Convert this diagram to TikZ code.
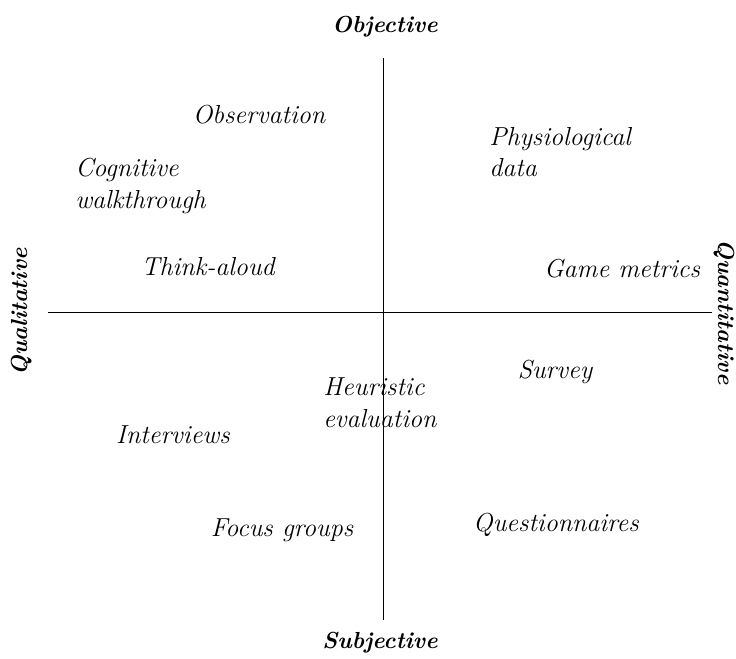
\documentclass[tikz,border=0pt]{standalone}
\usepackage{fontspec}
\tikzset{
  item/.style={font=\fontsize{18.5}{22.5}\selectfont\itshape, align=left, inner sep=0pt},
  pole/.style={font=\fontsize{16.5}{19}\selectfont\bfseries\itshape, inner sep=0pt}
}
\begin{document}
\begin{tikzpicture}[x=0.025cm,y=-0.025cm]
\useasboundingbox (0,0) rectangle (736,658);

\coordinate (top) at (383,58);
\coordinate (bottom) at (383,620);
\coordinate (left) at (48,312);
\coordinate (right) at (712,312);
\draw[semithick] (top) -- (bottom);
\draw[semithick] (left) -- (right);

\node[pole] (obj) at (385,27) {Objective};
\node[pole] (subj) at (380,643) {Subjective};
\node[pole,rotate=90] (qual) at (22,312) {Qualitative};
\node[pole,rotate=-90] (quant) at (724,312) {Quantitative};

\node[item] (obs) at (259,115) {Observation};
\node[item,anchor=west] (cog) at (75,186) {Cognitive\\walkthrough};
\node[item,anchor=west] (phys) at (489,152) {Physiological\\data};
\node[item] (think) at (208,267) {Think-aloud};
\node[item] (game) at (622,269) {Game metrics};
\node[item] (survey) at (555,372) {Survey};
\node[item,anchor=west] (heur) at (323,403) {Heuristic\\evaluation};
\node[item] (inter) at (173,435) {Interviews};
\node[item] (focus) at (282,530) {Focus groups};
\node[item] (quest) at (556,525) {Questionnaires};
\end{tikzpicture}
\end{document}
